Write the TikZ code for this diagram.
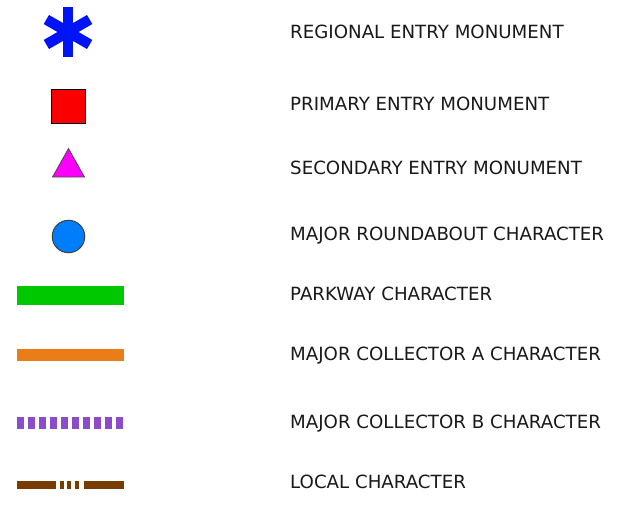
\documentclass[tikz,border=0pt]{standalone}
\usepackage{fontspec}
\setmainfont{DejaVu Sans}
\usetikzlibrary{calc}
\definecolor{astblue}{RGB}{0,20,245}
\definecolor{sqred}{RGB}{250,0,0}
\definecolor{trimag}{RGB}{250,0,250}
\definecolor{cirblue}{RGB}{0,125,250}
\definecolor{parkgreen}{RGB}{0,200,0}
\definecolor{colorange}{RGB}{235,125,25}
\definecolor{colpurple}{RGB}{140,75,200}
\definecolor{locbrown}{RGB}{120,60,0}
\begin{document}
\begin{tikzpicture}[x=1pt,y=-1pt,
  lbl/.style={anchor=base west,inner sep=0pt,font=\fontsize{18.2}{20}\selectfont,text=black!90}]
\useasboundingbox (0,0) rectangle (621,508);
% asterisk
\coordinate (ast) at (68,32);
\foreach \a in {90,30,150}
  \draw[astblue,line width=10.5pt,line cap=butt] ($(ast)+(\a:25)$) -- ($(ast)+(\a:-25)$);
\node[draw=black,line width=1.5pt,fill=sqred,minimum size=34pt,inner sep=0pt] (sq) at (68.5,106.5) {};
\filldraw[draw=black!70,line width=0.8pt,fill=trimag] (52.5,177) -- (68.5,148.5) -- (84.5,177) -- cycle;
\node[circle,draw=black!75,line width=1pt,fill=cirblue,minimum size=32.5pt,inner sep=0pt] (cir) at (68.5,236.5) {};
\fill[parkgreen] (17,286) rectangle (124,305);
\fill[colorange] (17,349) rectangle (124,361);
\foreach \i in {0,...,9}
  \fill[colpurple] (17+\i*11.05,417) rectangle ++(6.5,12);
\fill[locbrown] (17,481) rectangle (56,489);
\fill[locbrown] (60,481) rectangle (64,489);
\fill[locbrown] (67,481) rectangle (71,489);
\fill[locbrown] (75,481) rectangle (79,489);
\fill[locbrown] (84,481) rectangle (124,489);
\node[lbl] (l1) at (290,38.5) {REGIONAL ENTRY MONUMENT};
\node[lbl] (l2) at (290,110.5) {PRIMARY ENTRY MONUMENT};
\node[lbl] (l3) at (290,174.5) {SECONDARY ENTRY MONUMENT};
\node[lbl] (l4) at (290,240.5) {MAJOR ROUNDABOUT CHARACTER};
\node[lbl] (l5) at (290,300) {PARKWAY CHARACTER};
\node[lbl] (l6) at (290,360) {MAJOR COLLECTOR A CHARACTER};
\node[lbl] (l7) at (290,428) {MAJOR COLLECTOR B CHARACTER};
\node[lbl] (l8) at (290,488.5) {LOCAL CHARACTER};
\end{tikzpicture}
\end{document}
